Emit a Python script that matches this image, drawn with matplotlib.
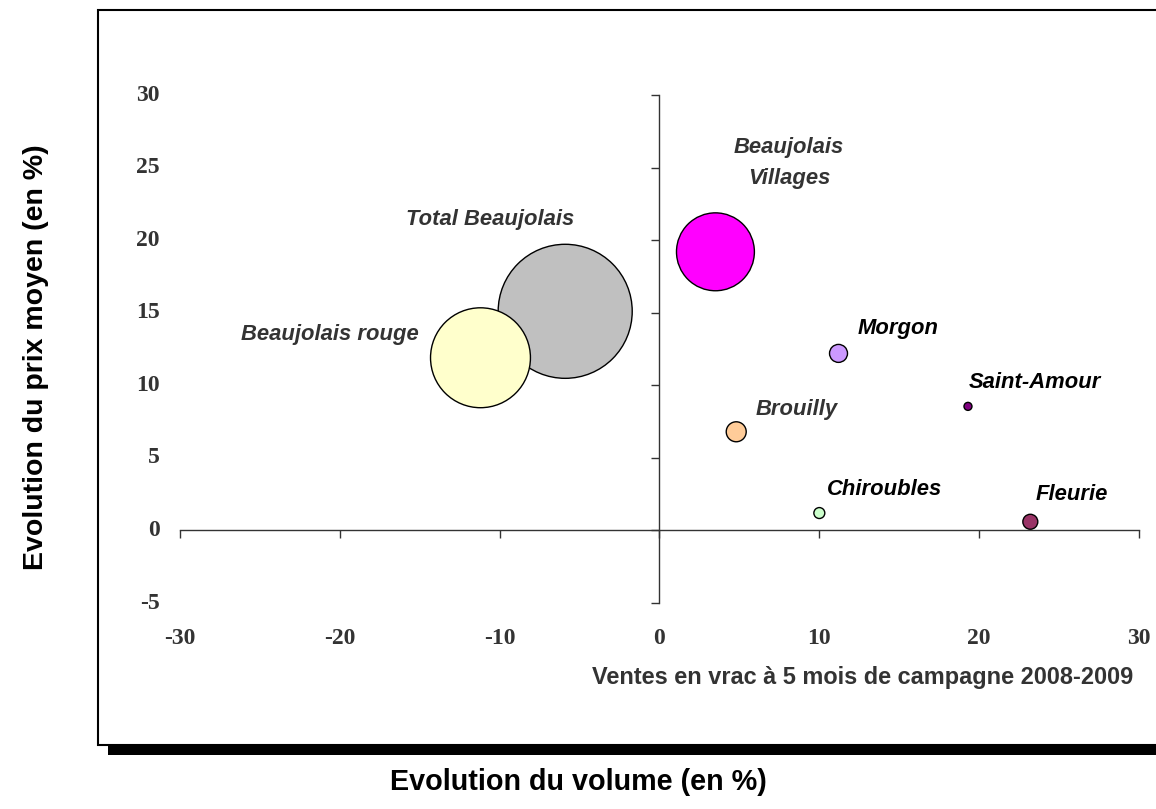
import matplotlib.pyplot as plt
from matplotlib.patches import Rectangle

# Data
names = ["Total Beaujolais", "Beaujolais rouge", "Beaujolais\nVillages", "Morgon",
         "Brouilly", "Chiroubles", "Saint-Amour", "Fleurie"]
volume_change = [-5.9, -11.2, 3.5, 11.2, 4.8, 10.0, 19.3, 23.2]
price_change = [15.1, 11.9, 19.2, 12.2, 6.8, 1.2, 8.55, 0.6]
sales_volume = [4500, 2500, 1520, 81, 100, 30, 16, 56]
colors = ["#C0C0C0", "#FFFFCC", "#FF00FF", "#CC99FF", "#FFCC99", "#CCFFCC", "#800080", "#993366"]
label_x = [-10.6, -20.6, 8.1, 14.9, 8.6, 14.1, 23.5, 25.8]
label_y = [21.4, 13.5, 25.3, 13.9, 8.3, 2.8, 10.2, 2.5]
label_colors = ["#333333", "#333333", "#333333", "black", "#333333", "black", "black", "black"]
xticks = [-30, -20, -10, 0, 10, 20, 30]
yticks = [-5, 0, 5, 10, 15, 20, 25, 30]

fig = plt.figure(figsize=(11.56, 8.09), dpi=100)

# outer frame with shadow
fig.patches.append(Rectangle((0.0934, 0.0667), 1.0, 0.0124, transform=fig.transFigure,
                             facecolor="black", edgecolor="none", zorder=0))
fig.patches.append(Rectangle((0.0848, 0.0791), 1.0, 0.9085, transform=fig.transFigure,
                             facecolor="white", edgecolor="black", linewidth=1.5, zorder=1))

ax = fig.add_axes([0.1557, 0.2546, 0.8296, 0.6279])
ax.set_zorder(5)
ax.set_facecolor("none")
ax.set_xlim(-30, 30)
ax.set_ylim(-5, 30)

for s in ["top", "right"]:
    ax.spines[s].set_visible(False)
ax.spines["left"].set_position(("data", 0))
ax.spines["bottom"].set_position(("data", 0))
for s in ["left", "bottom"]:
    ax.spines[s].set_color("#333333")
    ax.spines[s].set_linewidth(1)
ax.set_xticks(xticks)
ax.set_yticks(yticks)
ax.tick_params(axis="both", direction="out", length=6, width=1, color="#333333",
               labelleft=False, labelbottom=False)

tick_font = dict(family="Liberation Serif", fontweight="bold", fontsize=17, color="#333333")
for v in yticks:
    ax.text(-0.021, v, str(v), transform=ax.get_yaxis_transform(),
            ha="right", va="center", **tick_font)
for v in xticks:
    ax.text(v, -0.07, str(v), transform=ax.get_xaxis_transform(),
            ha="center", va="center", **tick_font)

# bubbles
ax.scatter(volume_change, price_change, s=[v * 2.07 for v in sales_volume], c=colors,
           edgecolors="black", linewidths=1, zorder=3, clip_on=False)

for n, x, y, c in zip(names, label_x, label_y, label_colors):
    ax.text(x, y, n, ha="center", va="center", family="Liberation Sans",
            fontweight="bold", style="italic", fontsize=15.8, color=c,
            linespacing=1.6, zorder=4)

ax.text(1.0 - 6 / 959, -0.147, "Ventes en vrac à 5 mois de campagne 2008-2009",
        transform=ax.transAxes, ha="right", va="center", family="Liberation Sans",
        fontweight="bold", fontsize=16.9, color="#333333")

fig.text(0.5, 1 - 782 / 809, "Evolution du volume (en %)", ha="center", va="center",
         family="Liberation Sans", fontweight="bold", fontsize=20.7, color="black")
fig.text(36 / 1156, 1 - 357 / 809, "Evolution du prix moyen (en %)", ha="center",
         va="center", rotation=90, family="Liberation Sans", fontweight="bold",
         fontsize=20.5, color="black")

fig.savefig("out.png", dpi=100)
